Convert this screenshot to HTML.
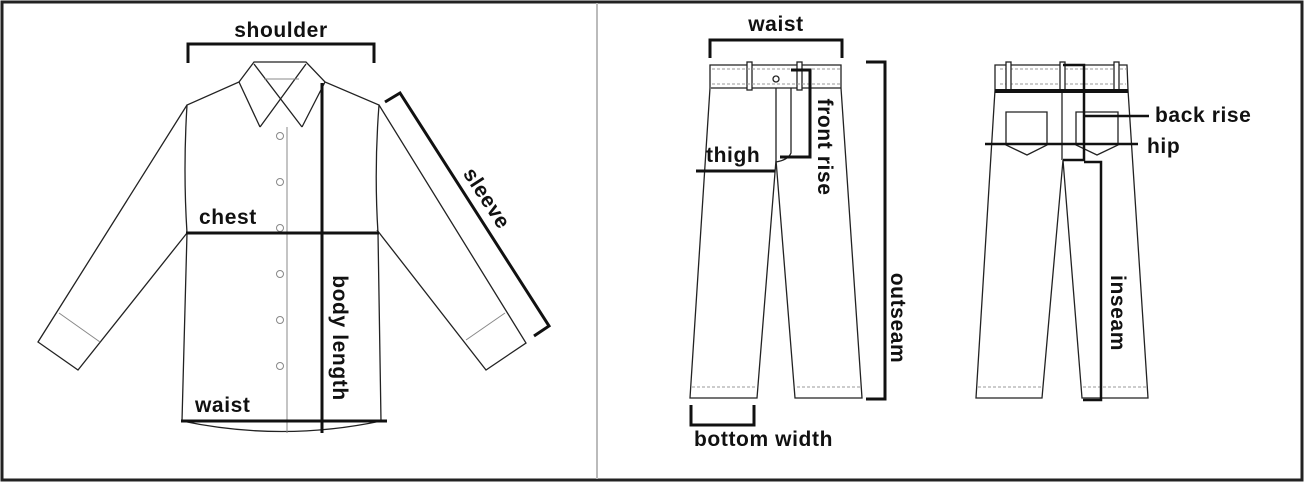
<!DOCTYPE html>
<html><head><meta charset="utf-8"><style>
html,body{margin:0;padding:0;background:#fff}
svg{display:block}
text{font-family:"Liberation Sans",sans-serif;font-weight:bold;font-size:21px;letter-spacing:0.6px;fill:#111}
</style></head><body>
<svg width="1304" height="482" viewBox="0 0 1304 482" xmlns="http://www.w3.org/2000/svg">
<rect x="2" y="2" width="1300" height="478" fill="#fff" stroke="#222" stroke-width="3"/>
<line x1="597" y1="3" x2="597" y2="479" stroke="#bbb" stroke-width="2"/>

<!-- SHIRT -->
<g fill="none" stroke="#222" stroke-width="1.3">
<path d="M254,62 L306,62 L325,82 L379,105 Q374,170 378,233 L381,421 Q282,442 182,421 L187,233 Q183,170 187,105 L239,82 Z"/>
<path d="M254,64 L302,127 M306,64 L260,127 M239,82 L260,127 M325,82 L302,127"/>
<path d="M187,105 L38,342 L78,370 L187,233"/>
<path d="M379,105 L526,343 L486,370 L377,230"/>
</g>
<g stroke="#888" stroke-width="1" fill="none">
<line x1="264" y1="79" x2="299" y2="79"/>
<line x1="287" y1="127" x2="287" y2="433"/>
<line x1="59" y1="313" x2="100" y2="342"/>
<line x1="466" y1="340" x2="505" y2="313"/>
<circle cx="280" cy="136" r="3.5"/><circle cx="280" cy="182" r="3.5"/><circle cx="280" cy="228" r="3.5"/>
<circle cx="280" cy="274" r="3.5"/><circle cx="280" cy="320" r="3.5"/><circle cx="280" cy="366" r="3.5"/>
</g>
<g fill="none" stroke="#111" stroke-width="3">
<path d="M188,63 L188,44 L374,44 L374,63"/>
<line x1="186" y1="233" x2="379" y2="233"/>
<line x1="322" y1="83" x2="322" y2="433"/>
<line x1="181" y1="421" x2="387" y2="421"/>
<path d="M385,102 L400,93 L549,326 L534,336"/>
</g>
<text x="281" y="37" text-anchor="middle">shoulder</text>
<text x="199" y="224">chest</text>
<text x="195" y="412">waist</text>
<text transform="translate(333,338) rotate(90)" text-anchor="middle">body length</text>
<text transform="translate(481,202) rotate(57)" text-anchor="middle">sleeve</text>

<!-- FRONT PANTS -->
<g fill="none" stroke="#222" stroke-width="1.3">
<path d="M710,65 L841,65 L841,88 L862,398 L795,398 L776,160 L757,398 L690,398 L710,88 Z"/>
<line x1="711" y1="88" x2="841" y2="88"/>
<path d="M776,88 L776,160 M791,88 L791,153 Q788,160 776,162"/>
<rect x="747" y="62" width="5" height="28" fill="#fff"/>
<rect x="797" y="62" width="5" height="28" fill="#fff"/>
<circle cx="776" cy="79" r="3"/>
</g>
<g stroke="#999" stroke-width="1" stroke-dasharray="3,2" fill="none">
<line x1="712" y1="69" x2="840" y2="69"/><line x1="712" y1="84" x2="840" y2="84"/>
<line x1="692" y1="387" x2="756" y2="387"/><line x1="797" y1="387" x2="861" y2="387"/>
<line x1="1000" y1="69" x2="1126" y2="69"/><line x1="1000" y1="84" x2="1126" y2="84"/>
<line x1="978" y1="387" x2="1041" y2="387"/><line x1="1083" y1="387" x2="1146" y2="387"/>
</g>
<g fill="none" stroke="#111" stroke-width="3">
<path d="M710,58 L710,40 L842,40 L842,58"/>
<path d="M791,70 L810,70 L810,157 L780,157"/>
<line x1="696" y1="171" x2="775" y2="171"/>
<path d="M866,62 L885,62 L885,399 L866,399"/>
<path d="M691,405 L691,425 L754,425 L754,405"/>
</g>
<text x="776" y="31" text-anchor="middle">waist</text>
<text x="706" y="162">thigh</text>
<text transform="translate(818,147) rotate(90)" text-anchor="middle">front rise</text>
<text transform="translate(891,318) rotate(90)" text-anchor="middle">outseam</text>
<text x="694" y="446">bottom width</text>

<!-- BACK PANTS -->
<g fill="none" stroke="#222" stroke-width="1.3">
<path d="M995,65 L1127,65 L1128,90 L1148,398 L1082,398 L1063,160 L1042,398 L976,398 L995,90 Z"/>
<line x1="1062" y1="65" x2="1062" y2="160"/>
<path d="M1006,112 L1047,112 L1047,145 L1027,155 L1006,145 Z"/>
<path d="M1076,112 L1118,112 L1118,145 L1097,155 L1076,145 Z"/>
<rect x="1006" y="62" width="5" height="28" fill="#fff"/>
<rect x="1060" y="62" width="5" height="28" fill="#fff"/>
<rect x="1114" y="62" width="5" height="28" fill="#fff"/>
</g>
<path d="M995,91 L1128,91" stroke="#111" stroke-width="4" fill="none"/>
<g fill="none" stroke="#111" stroke-width="2.5">
<path d="M1063,65 L1084,65 L1084,160 L1063,160"/>
<line x1="1085" y1="116" x2="1149" y2="116"/>
<line x1="985" y1="144" x2="1138" y2="144"/>
<path d="M1084,162 L1101,162 L1101,400 L1083,400"/>
</g>
<text x="1155" y="122">back rise</text>
<text x="1147" y="153">hip</text>
<text transform="translate(1111,313) rotate(90)" text-anchor="middle">inseam</text>
</svg>
</body></html>
